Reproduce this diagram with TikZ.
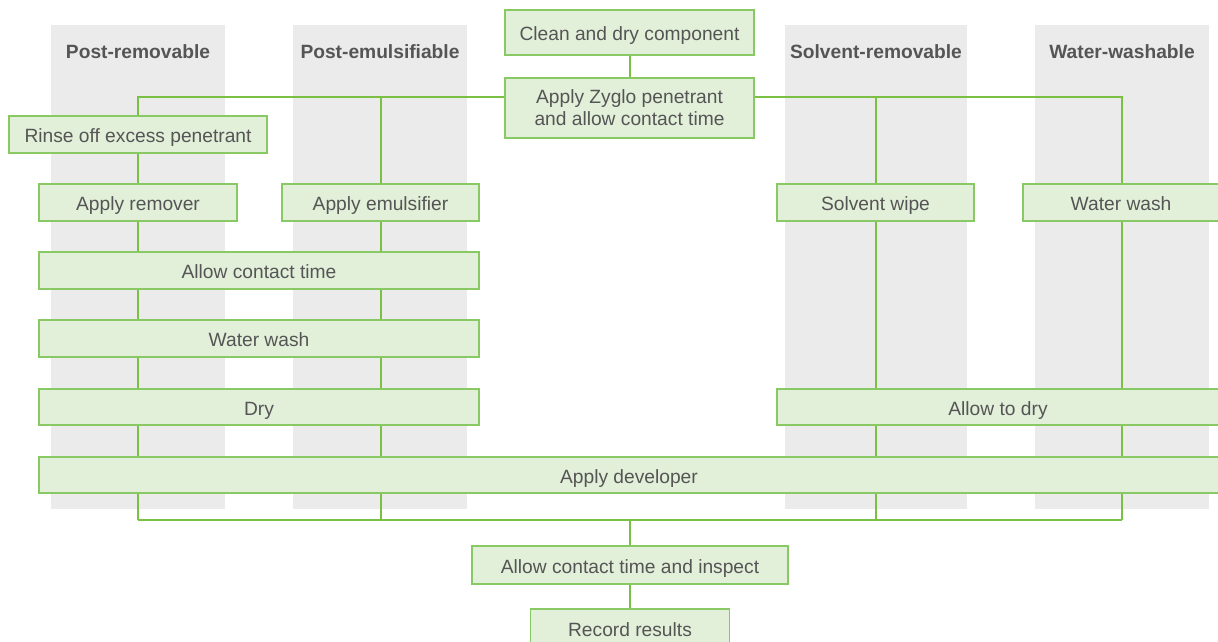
\documentclass[tikz,border=0pt]{standalone}
\usepackage{fontspec}
\setmainfont{Liberation Sans}
\usetikzlibrary{backgrounds}
\definecolor{boxfill}{RGB}{226,239,217}
\definecolor{boxline}{RGB}{137,201,100}
\definecolor{connc}{RGB}{122,193,67}
\definecolor{txt}{RGB}{85,85,85}
\definecolor{lane}{RGB}{235,235,235}
\begin{document}
\begin{tikzpicture}[x=1pt,y=-1pt,
  basebox/.style={draw=boxline, fill=boxfill, line width=1.5pt, inner sep=0pt,
    text=txt, font=\fontsize{19.2}{22}\selectfont, align=center},
  stepbox/.style={basebox, text height=18pt, text depth=2pt},
  lanehead/.style={text=txt, font=\fontsize{19.2}{22}\selectfont\bfseries},
  connector/.style={draw=connc, line width=2pt}]
\useasboundingbox (0,0) rectangle (1218,641);
% lane headers
\node[lanehead] (h1) at (138,52) {Post-removable};
\node[lanehead] (h2) at (380,52) {Post-emulsifiable};
\node[lanehead] (h3) at (876,52) {Solvent-removable};
\node[lanehead] (h4) at (1122,52) {Water-washable};
% junction coordinates
\coordinate (c1) at (138,97);
\coordinate (c2) at (380.5,97);
\coordinate (c3) at (875.5,97);
\coordinate (c4) at (1122,97);
\coordinate (b1) at (138,520);
\coordinate (b2) at (380.5,520);
\coordinate (b3) at (875.5,520);
\coordinate (b4) at (1122,520);
\coordinate (bm) at (630,520);
% nodes
\node[basebox, minimum width=249pt, minimum height=45pt, text height=18pt, text depth=2pt] (clean) at (629.5,32.5) {Clean and dry component};
\node[basebox, minimum width=249pt, minimum height=60pt] (zyglo) at (629.5,108) {Apply Zyglo penetrant\\and allow contact time};
\node[stepbox, minimum width=258pt, minimum height=37pt] (rinse) at (138,134.5) {Rinse off excess penetrant};
\node[stepbox, minimum width=198pt, minimum height=37pt] (remover) at (138,202.5) {Apply remover};
\node[stepbox, minimum width=197pt, minimum height=37pt] (emuls) at (380.5,202.5) {Apply emulsifier};
\node[stepbox, minimum width=197pt, minimum height=37pt] (solvent) at (875.5,202.5) {Solvent wipe};
\node[stepbox, minimum width=196pt, minimum height=37pt] (wwash) at (1121,202.5) {Water wash};
\node[stepbox, minimum width=440pt, minimum height=37pt] (contact) at (259,270.5) {Allow contact time};
\node[stepbox, minimum width=440pt, minimum height=37pt] (wash) at (259,338.5) {Water wash};
\node[stepbox, minimum width=440pt, minimum height=36pt] (dry) at (259,407) {Dry};
\node[stepbox, minimum width=442pt, minimum height=36pt] (adry) at (998,407) {Allow to dry};
\node[stepbox, minimum width=1180pt, minimum height=36pt] (dev) at (629,475) {Apply developer};
\node[stepbox, minimum width=316pt, minimum height=38pt] (insp) at (630,565) {Allow contact time and inspect};
\node[stepbox, minimum width=199pt, minimum height=38pt] (rec) at (630,628) {Record results};
% lanes and connectors behind
\begin{scope}[on background layer]
\fill[lane] (51,25) rectangle (225,509);
\fill[lane] (293,25) rectangle (467,509);
\fill[lane] (785,25) rectangle (967,509);
\fill[lane] (1035,25) rectangle (1209,509);
% top
\draw[connector] (clean.south) -- (zyglo.north);
\draw[connector] (zyglo.west |- c1) -- (c1) -- (rinse.north);
\draw[connector] (c2) -- (emuls.north);
\draw[connector] (zyglo.east |- c4) -- (c4) -- (wwash.north -| c4);
\draw[connector] (c3) -- (solvent.north);
% column 1
\draw[connector] (rinse.south) -- (remover.north);
\draw[connector] (remover.south) -- (contact.north -| remover.south);
\draw[connector] (contact.south -| b1) -- (wash.north -| b1);
\draw[connector] (wash.south -| b1) -- (dry.north -| b1);
\draw[connector] (dry.south -| b1) -- (dev.north -| b1);
\draw[connector] (dev.south -| b1) -- (b1);
% column 2
\draw[connector] (emuls.south) -- (contact.north -| emuls.south);
\draw[connector] (contact.south -| b2) -- (wash.north -| b2);
\draw[connector] (wash.south -| b2) -- (dry.north -| b2);
\draw[connector] (dry.south -| b2) -- (dev.north -| b2);
\draw[connector] (dev.south -| b2) -- (b2);
% column 3
\draw[connector] (solvent.south) -- (adry.north -| solvent.south);
\draw[connector] (adry.south -| b3) -- (dev.north -| b3);
\draw[connector] (dev.south -| b3) -- (b3);
% column 4
\draw[connector] (wwash.south -| b4) -- (adry.north -| b4);
\draw[connector] (adry.south -| b4) -- (dev.north -| b4);
\draw[connector] (dev.south -| b4) -- (b4);
% bottom
\draw[connector] (b1) -- (b4);
\draw[connector] (bm) -- (insp.north);
\draw[connector] (insp.south) -- (rec.north);
\end{scope}
\end{tikzpicture}
\end{document}
